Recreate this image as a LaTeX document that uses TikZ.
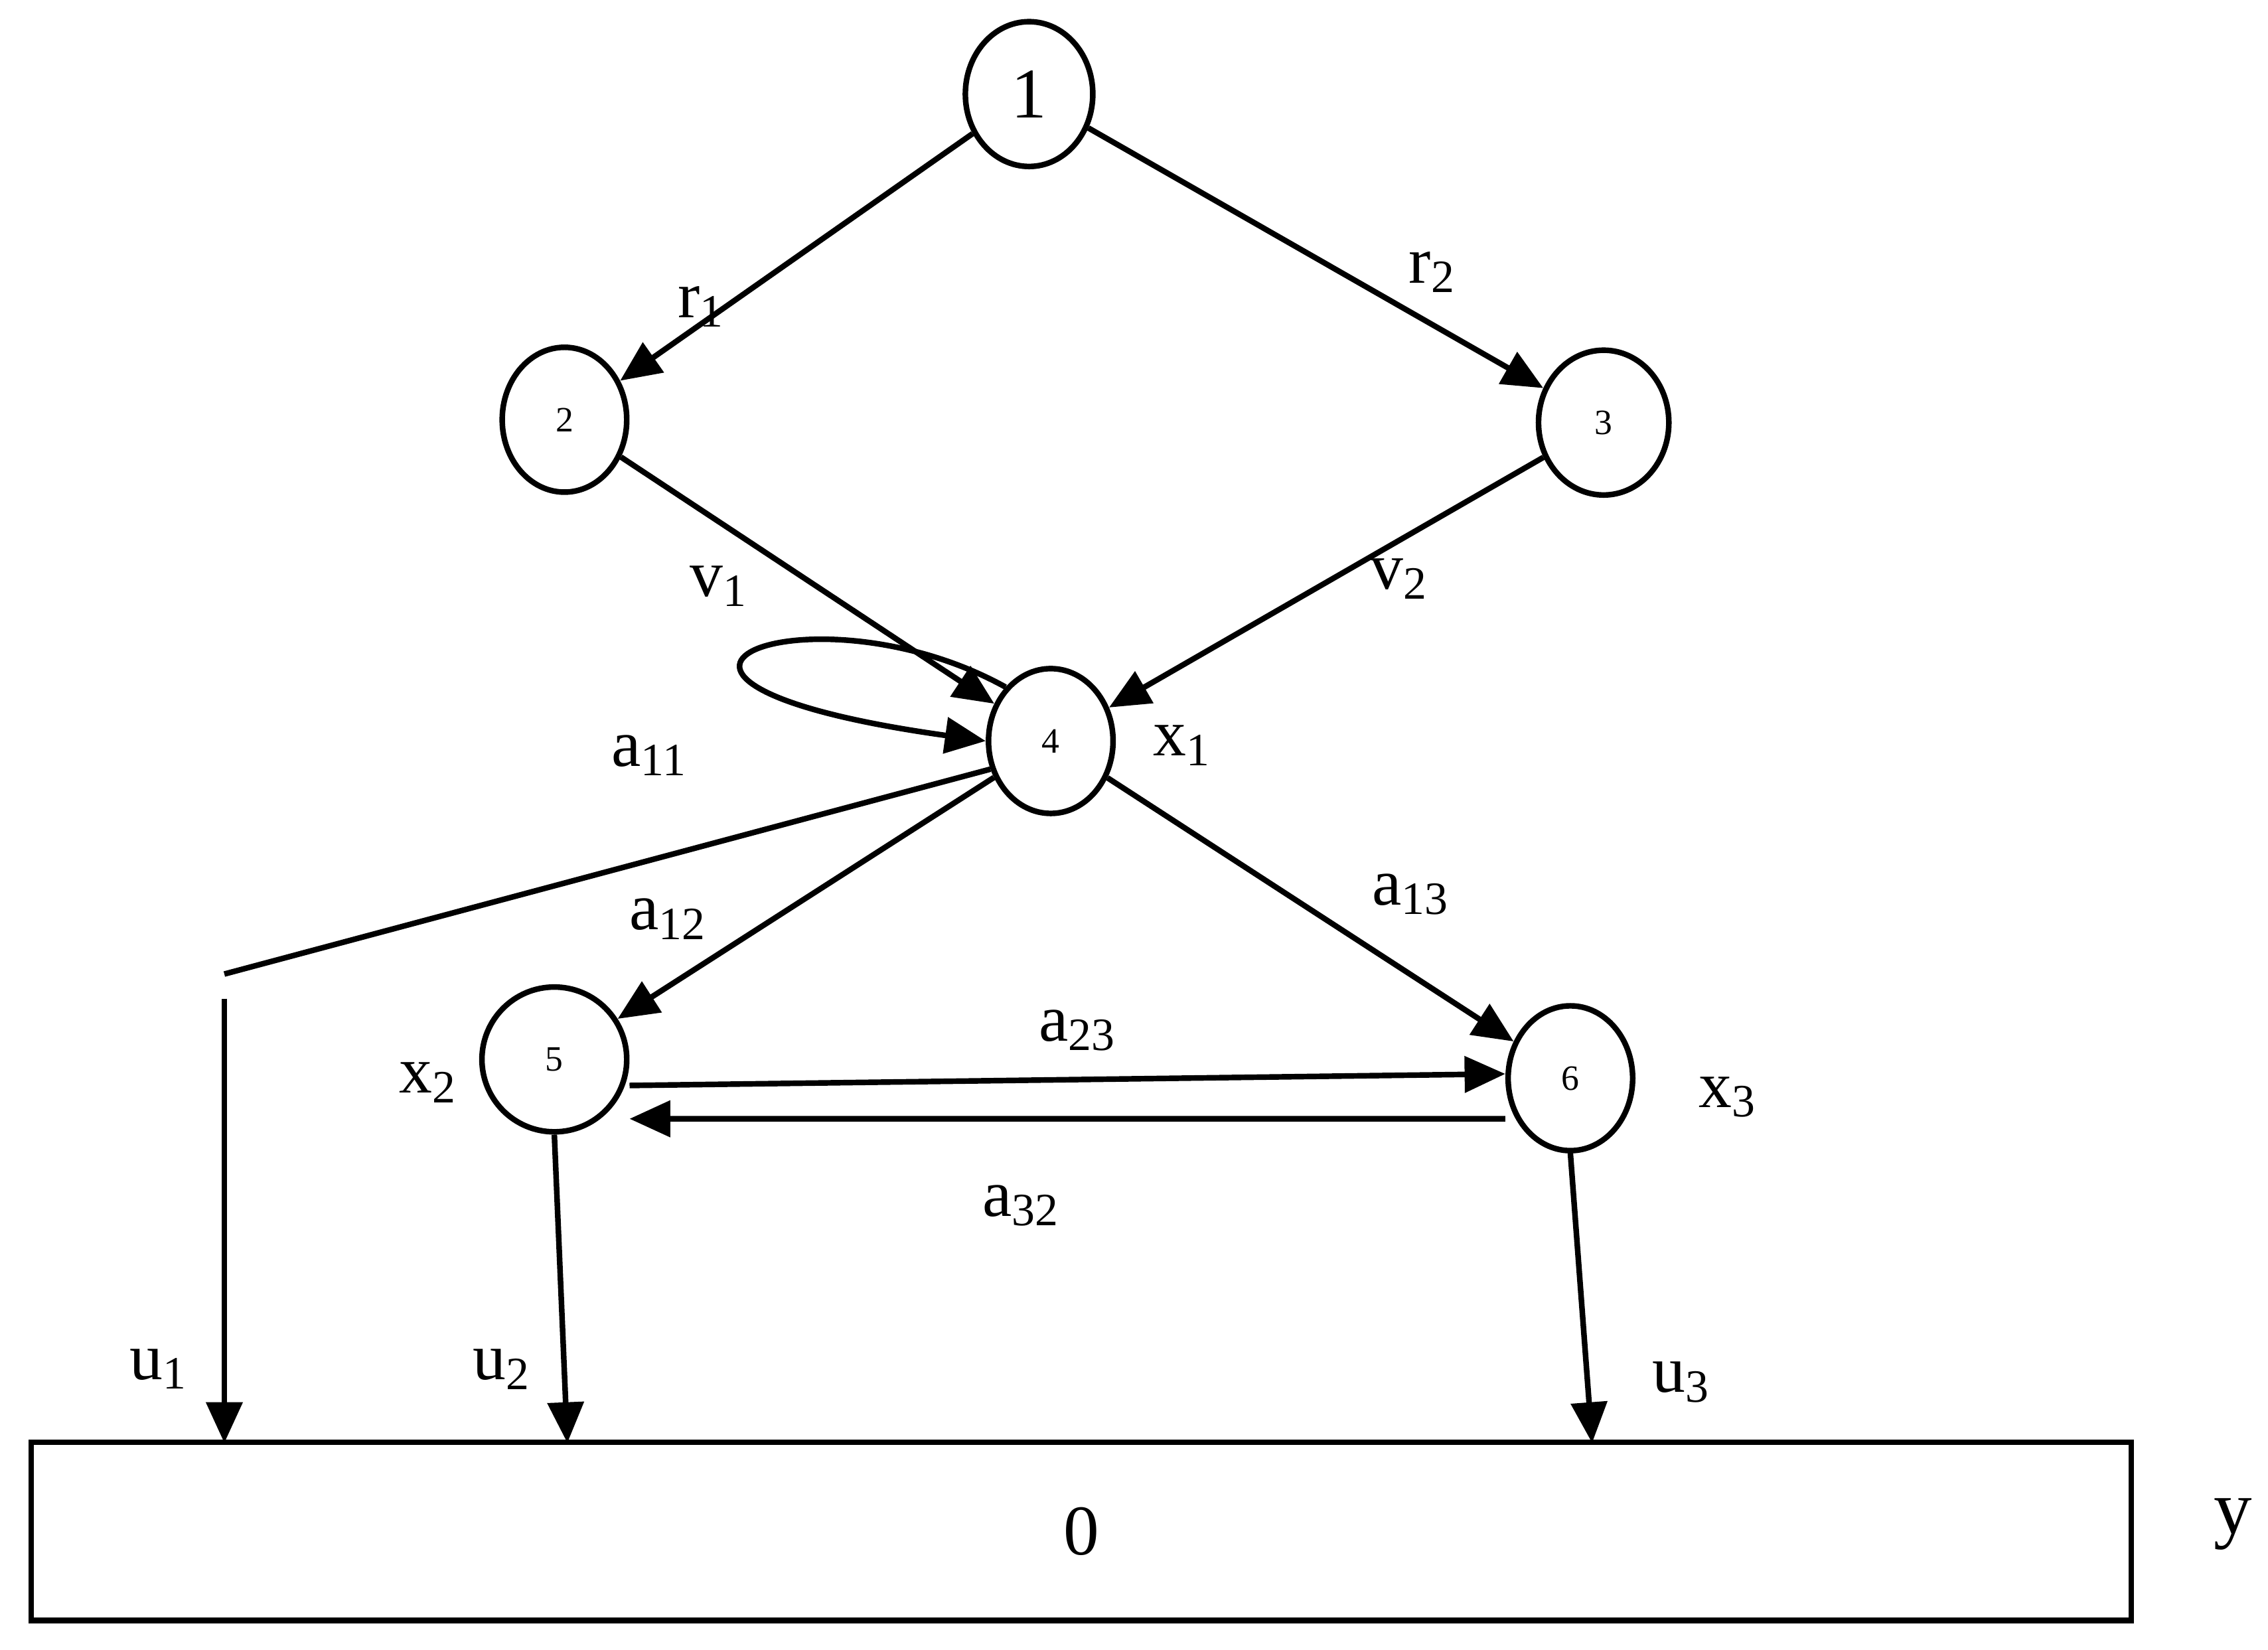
\documentclass[tikz,border=0pt]{standalone}
\usepackage{fontspec}
\setmainfont{Liberation Serif}
\usetikzlibrary{arrows.meta,shapes.geometric}
\begin{document}
\begin{tikzpicture}[x=0.01cm,y=-0.01cm,
  nd/.style={draw,ellipse,line width=1.1pt,inner sep=0pt},
  ar/.style={line width=1.1pt,-{Triangle[length=8pt,width=7pt]}},
  ln/.style={line width=1.1pt},
  lb/.style={font=\fontsize{13}{13}\selectfont}]
\useasboundingbox (0,0) rectangle (1567,1140);
\node[nd,minimum width=0.88cm,minimum height=1cm,font=\fontsize{14}{14}\selectfont] (n1) at (711,65) {1};
\node[nd,minimum width=0.86cm,minimum height=1cm,font=\fontsize{7}{7}\selectfont] (n2) at (390,290) {2};
\node[nd,minimum width=0.9cm,minimum height=1cm,font=\fontsize{7}{7}\selectfont] (n3) at (1108,292) {3};
\node[nd,minimum width=0.86cm,minimum height=1cm,font=\fontsize{7}{7}\selectfont] (n4) at (726,512) {4};
\node[nd,minimum width=1cm,minimum height=1cm,font=\fontsize{7}{7}\selectfont] (n5) at (383,732) {5};
\node[nd,minimum width=0.86cm,minimum height=1cm,font=\fontsize{7}{7}\selectfont] (n6) at (1085,745) {6};
\node[draw,ln,minimum width=14.5cm,minimum height=1.23cm,font=\fontsize{14}{14}\selectfont] (box) at (747,1058) {0};
\coordinate (t1) at (155,997);
\coordinate (t2) at (392,997);
\coordinate (t3) at (1100,997);
\coordinate (k1) at (155,673);
\coordinate (k2) at (155,690);
\draw[ar] (n1) -- (n2);
\draw[ar] (n1) -- (n3);
\draw[ar] (n2) -- (n4);
\draw[ar] (n3) -- (n4);
\draw[ar] (n4.130) .. controls (560,400) and (380,470) .. (n4.west);
\draw[ar] (n4) -- (n5);
\draw[ar] (n4) -- (n6);
\draw[ar] ([yshift=-0.18cm]n5.east) -- ([yshift=0.03cm]n6.west);
\draw[ar] ([yshift=-0.28cm]n6.west) -- ([yshift=-0.41cm]n5.east);
\draw[ln] (n4.205) -- (k1);
\draw[ar] (k2) -- (t1);
\draw[ar] (n5.south) -- (t2);
\draw[ar] (n6.south) -- (t3);
\node[lb] (lr1) at (485,212) {r\textsubscript{1}};
\node[lb] (lr2) at (990,188) {r\textsubscript{2}};
\node[lb] (lv1) at (497,405) {v\textsubscript{1}};
\node[lb] (lv2) at (967,400) {v\textsubscript{2}};
\node[lb] (la11) at (449,522) {a\textsubscript{11}};
\node[lb] (lx1) at (817,515) {x\textsubscript{1}};
\node[lb] (la12) at (462,635) {a\textsubscript{12}};
\node[lb] (la13) at (975,618) {a\textsubscript{13}};
\node[lb] (la23) at (745,712) {a\textsubscript{23}};
\node[lb] (lx2) at (296,748) {x\textsubscript{2}};
\node[lb] (lx3) at (1194,758) {x\textsubscript{3}};
\node[lb] (la32) at (706,833) {a\textsubscript{32}};
\node[lb] (lu1) at (110,946) {u\textsubscript{1}};
\node[lb] (lu2) at (347,946) {u\textsubscript{2}};
\node[lb] (lu3) at (1162,955) {u\textsubscript{3}};
\node[font=\fontsize{15}{15}\selectfont] (ly) at (1543,1053) {y};
\end{tikzpicture}
\end{document}
